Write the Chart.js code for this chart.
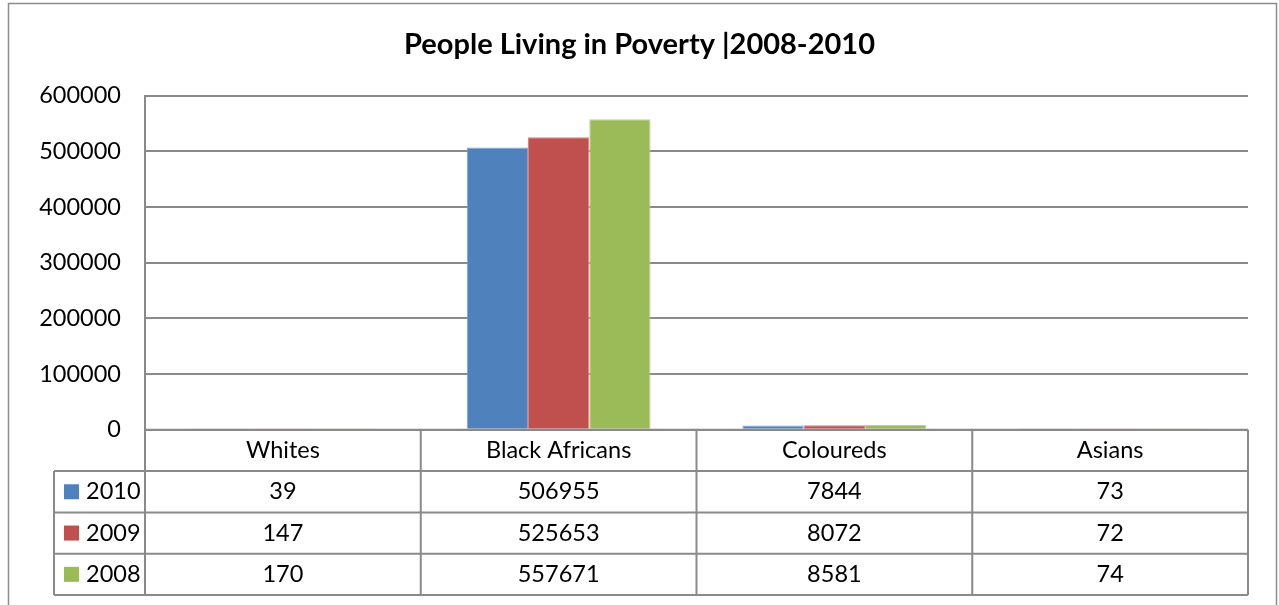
<!DOCTYPE html>
<html>
<head>
  <meta charset="utf-8" />
  <script src="https://cdn.jsdelivr.net/npm/chart.js@4.4.1/dist/chart.umd.min.js"></script>
  <style>
    body{margin:0;background:#fff;overflow:hidden;}
    #holder{width:1279px;height:605px;position:relative;}
  </style>
</head>
<body>
<div id="holder"><canvas id="povertyChart"></canvas></div>

<script>
/* ---------- Data ---------- */
const categories = ['Whites', 'Black Africans', 'Coloureds', 'Asians'];
const years = ['2010', '2009', '2008'];
const values2010 = [39, 506955, 7844, 73];
const values2009 = [147, 525653, 8072, 72];
const values2008 = [170, 557671, 8581, 74];
const yMax = 600000, yStep = 100000;

/* ---------- Style ---------- */
const FONT = 'Lato, "Open Sans", sans-serif';
const TXT = 23.5;
const GRID = '#8a8a8a';
const COLORS = ['#4F81BD', '#C0504D', '#9BBB59'];
const EDGES = ['#7fa3d0', '#d88482', '#bcd38b'];
const ROW_H = 41.3;     // data table row height
const KEY_W = 91;       // legend column width

/* ---------- Data table + frame, drawn off the scales ---------- */
const dataTable = {
  id: 'dataTable',
  afterDraw(chart){
    const ctx = chart.ctx, xs = chart.scales.x, area = chart.chartArea;
    const rows = [values2010, values2009, values2008];
    const half = (xs.right - xs.left) / categories.length / 2;
    const top = area.bottom, left = area.left, right = area.right;
    const bottom = top + ROW_H * (rows.length + 1);

    ctx.save();
    // outer chart frame
    ctx.strokeStyle = '#8c8c8c'; ctx.lineWidth = 1.5;
    ctx.strokeRect(8.5, 3.5, 1268, 700);

    ctx.strokeStyle = GRID; ctx.lineWidth = 2;
    ctx.beginPath();
    // horizontal lines
    ctx.moveTo(left, top); ctx.lineTo(right, top);
    for(let r = 1; r <= rows.length + 1; r++){
      const y = top + ROW_H * r;
      ctx.moveTo(left - KEY_W, y); ctx.lineTo(right, y);
    }
    // vertical lines
    ctx.moveTo(left - KEY_W, top + ROW_H); ctx.lineTo(left - KEY_W, bottom);
    categories.forEach((c, i) => {
      const cx = xs.getPixelForValue(i);
      if(i === 0){ ctx.moveTo(cx - half, top); ctx.lineTo(cx - half, bottom); }
      ctx.moveTo(cx + half, top); ctx.lineTo(cx + half, bottom);
    });
    ctx.stroke();

    ctx.fillStyle = '#000';
    ctx.font = TXT + 'px ' + FONT;
    ctx.textBaseline = 'middle';
    ctx.textAlign = 'center';
    categories.forEach((c, i) => {
      ctx.fillText(c, xs.getPixelForValue(i), top + ROW_H / 2);
    });
    rows.forEach((vals, r) => {
      const y = top + ROW_H * (r + 1.5);
      vals.forEach((v, i) => ctx.fillText(String(v), xs.getPixelForValue(i), y));
      ctx.fillStyle = COLORS[r];
      ctx.fillRect(left - KEY_W + 10, y - 7.5, 15, 15);
      ctx.fillStyle = '#000';
      ctx.textAlign = 'left';
      ctx.fillText(years[r], left - KEY_W + 32, y);
      ctx.textAlign = 'center';
    });
    ctx.restore();
  }
};

const seriesValues = [values2010, values2009, values2008];

new Chart(document.getElementById('povertyChart'), {
  type: 'bar',
  data: {
    labels: categories,
    datasets: years.map((yr, i) => ({
      label: yr,
      data: seriesValues[i],
      backgroundColor: COLORS[i],
      borderColor: EDGES[i],
      borderWidth: 1,
      categoryPercentage: 3 / 4.5,
      barPercentage: 1
    }))
  },
  options: {
    responsive: true,
    maintainAspectRatio: false,
    animation: false,
    layout: { padding: { left: 31, right: 31, top: 0, bottom: ROW_H * 4 + 10 } },
    plugins: {
      legend: { display: false },
      tooltip: { enabled: false },
      title: {
        display: true,
        text: 'People Living in Poverty |2008-2010',
        color: '#000',
        font: { family: FONT, size: 29, weight: 'bold' },
        padding: { top: 27, bottom: 34 }
      }
    },
    scales: {
      x: {
        grid: { display: false, drawTicks: false },
        border: { display: false },
        ticks: { display: false },
        afterFit: s => { s.height = 0; }
      },
      y: {
        min: 0, max: yMax,
        grid: { color: GRID, lineWidth: 2, drawTicks: false },
        border: { display: true, color: GRID, width: 2 },
        ticks: {
          stepSize: yStep,
          padding: 24,
          color: '#000',
          font: { family: FONT, size: TXT },
          callback: v => String(v)
        },
        afterFit: s => { s.width = 114; }
      }
    }
  },
  plugins: [dataTable]
});
</script>
</body>
</html>
